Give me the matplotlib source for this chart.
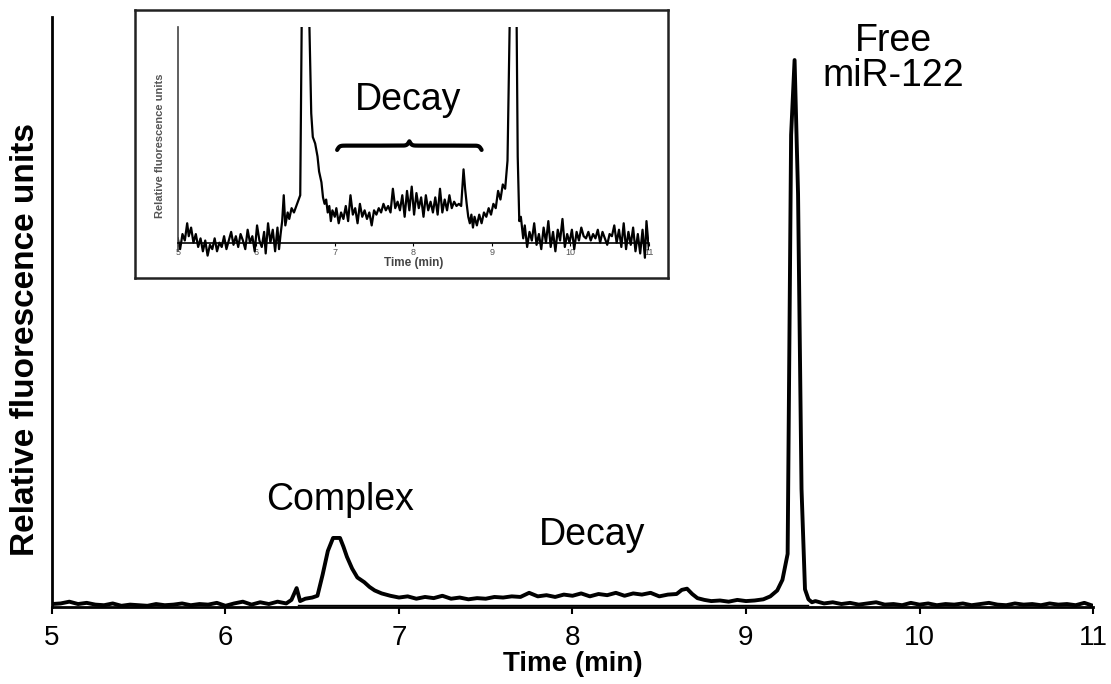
import numpy as np
import matplotlib.pyplot as plt

# main electropherogram (relative units, 100 = top of the y axis)
main_time = [5.00, 5.05, 5.10, 5.15, 5.20, 5.25, 5.30, 5.35, 5.40, 5.45, 5.50, 5.55,
             5.60, 5.65, 5.70, 5.75, 5.80, 5.85, 5.90, 5.95, 6.00, 6.05, 6.10, 6.15,
             6.20, 6.25, 6.30, 6.35, 6.38, 6.41, 6.43, 6.46, 6.50, 6.53, 6.56, 6.59,
             6.62, 6.66, 6.68, 6.70, 6.73, 6.76, 6.80, 6.83, 6.86, 6.90, 6.95, 7.00,
             7.05, 7.10, 7.15, 7.20, 7.25, 7.30, 7.35, 7.40, 7.45, 7.50, 7.55, 7.60,
             7.65, 7.70, 7.75, 7.80, 7.85, 7.90, 7.95, 8.00, 8.05, 8.10, 8.15, 8.20,
             8.25, 8.30, 8.35, 8.40, 8.45, 8.50, 8.55, 8.60, 8.63, 8.66, 8.69, 8.72,
             8.76, 8.80, 8.85, 8.90, 8.95, 9.00, 9.05, 9.10, 9.14, 9.18, 9.21, 9.24,
             9.26, 9.28, 9.30, 9.32, 9.34, 9.36, 9.38, 9.40, 9.45, 9.50, 9.55, 9.60,
             9.65, 9.70, 9.75, 9.80, 9.85, 9.90, 9.95, 10.00, 10.05, 10.10, 10.15,
             10.20, 10.25, 10.30, 10.35, 10.40, 10.45, 10.50, 10.55, 10.60, 10.65,
             10.70, 10.75, 10.80, 10.85, 10.90, 10.95, 11.00]
main_signal = [0.5, 0.6, 0.9, 0.5, 0.7, 0.4, 0.3, 0.6, 0.2, 0.4, 0.3, 0.2,
               0.5, 0.3, 0.4, 0.6, 0.3, 0.5, 0.4, 0.7, 0.2, 0.6, 0.9, 0.4,
               0.8, 0.5, 0.9, 0.6, 1.2, 3.2, 1.0, 1.4, 1.6, 1.9, 5.5, 9.5,
               11.7, 11.7, 10.2, 8.5, 6.5, 5.0, 4.2, 3.4, 2.8, 2.3, 1.9, 1.6,
               1.8, 1.4, 1.7, 1.5, 1.9, 1.4, 1.6, 1.3, 1.5, 1.4, 1.7, 1.6,
               1.8, 1.7, 2.4, 1.8, 2.0, 1.7, 2.1, 1.9, 2.3, 1.8, 2.2, 2.0,
               2.4, 1.9, 2.3, 2.1, 2.4, 1.8, 2.1, 2.2, 2.9, 3.1, 2.2, 1.5,
               1.2, 1.0, 1.1, 0.9, 1.2, 1.0, 1.1, 1.3, 1.8, 2.8, 4.6, 9.0,
               80.0, 92.7, 70.0, 20.0, 3.0, 1.3, 0.8, 1.0, 0.6, 0.8, 0.5, 0.7,
               0.4, 0.6, 0.8, 0.4, 0.5, 0.3, 0.7, 0.4, 0.6, 0.3, 0.5,
               0.4, 0.6, 0.3, 0.5, 0.7, 0.4, 0.3, 0.6, 0.4, 0.5,
               0.3, 0.6, 0.4, 0.5, 0.3, 0.7, 0.2]

# inset (zoomed view, 100 = top of inset y axis, peaks run off scale)
inset_time = [5.00, 5.03, 5.06, 5.09, 5.12, 5.14, 5.17, 5.20, 5.23, 5.26, 5.29, 5.32,
              5.35, 5.38, 5.41, 5.44, 5.47, 5.50, 5.53, 5.56, 5.59, 5.62, 5.65, 5.68,
              5.71, 5.74, 5.77, 5.80, 5.83, 5.86, 5.89, 5.92, 5.95, 5.98, 6.01, 6.04,
              6.07, 6.10, 6.12, 6.15, 6.18, 6.21, 6.24, 6.27, 6.29, 6.31, 6.33, 6.35,
              6.37, 6.40, 6.42, 6.45, 6.48, 6.51, 6.54, 6.56, 6.585, 6.66, 6.70, 6.72,
              6.75, 6.78, 6.80, 6.83, 6.85, 6.87, 6.89, 6.91, 6.93, 6.95, 6.97, 7.00,
              7.02, 7.05, 7.08, 7.11, 7.14, 7.17, 7.20, 7.23, 7.26, 7.29, 7.32, 7.35,
              7.38, 7.41, 7.44, 7.47, 7.50, 7.53, 7.56, 7.59, 7.62, 7.65, 7.68, 7.71,
              7.74, 7.77, 7.80, 7.83, 7.86, 7.89, 7.92, 7.95, 7.98, 8.01, 8.04, 8.07,
              8.10, 8.13, 8.16, 8.19, 8.22, 8.25, 8.28, 8.31, 8.34, 8.37, 8.40, 8.43,
              8.46, 8.49, 8.52, 8.55, 8.58, 8.61, 8.64, 8.66, 8.68, 8.70, 8.72, 8.74,
              8.76, 8.78, 8.81, 8.84, 8.87, 8.90, 8.93, 8.96, 8.99, 9.02, 9.05, 9.08,
              9.11, 9.14, 9.17, 9.20, 9.24, 9.31, 9.33, 9.35, 9.37, 9.40, 9.42, 9.45,
              9.48, 9.51, 9.54, 9.57, 9.60, 9.63, 9.66, 9.69, 9.72, 9.75, 9.78, 9.81,
              9.84, 9.87, 9.90, 9.93, 9.96, 9.99, 10.02, 10.05, 10.08, 10.11, 10.14,
              10.17, 10.20, 10.23, 10.26, 10.29, 10.32, 10.35, 10.38, 10.41, 10.44,
              10.47, 10.50, 10.53, 10.56, 10.59, 10.62, 10.65, 10.68, 10.71, 10.74,
              10.77, 10.80, 10.83, 10.86, 10.89, 10.92, 10.95, 10.97, 11.00]
inset_signal = [2, -3, 4, 1, 9, 3, 7, 0, 4, -2, 2, -4,
                1, -6, -1, -3, 2, -4, 0, -2, 3, -3, 1, 5,
                -1, 3, -2, 4, 1, -3, 6, 0, 3, -4, 8, 1,
                -2, 5, -5, 9, 0, 6, -4, 7, -3, 4, 10, 22,
                8, 14, 11, 16, 14, 17, 20, 22, 130, 130, 60, 49,
                46, 40, 33, 28, 21, 18, 20, 14, 17, 10, 15, 12,
                16, 9, 14, 11, 17, 10, 22, 13, 16, 9, 18, 12,
                15, 11, 14, 8, 15, 13, 16, 14, 18, 15, 17, 14,
                25, 16, 19, 15, 22, 12, 24, 15, 26, 13, 23, 16,
                21, 12, 22, 15, 19, 14, 21, 13, 25, 14, 20, 15,
                22, 16, 19, 17, 18, 17, 34, 25, 18, 12, 9, 13,
                7, 12, 8, 13, 9, 14, 12, 16, 13, 18, 16, 24,
                20, 27, 25, 38, 130, 130, 40, 10, 12, 2, 8, -2,
                5, 1, 9, -1, 4, -3, 7, 0, 10, -2, 5, -4,
                6, 1, 11, -2, 4, 0, 6, -3, 5, 1, 7,
                3, 2, 5, 1, 4, 2, 6, 0, 5, 2,
                -1, 4, 3, 8, 0, 6, -2, 9, -3, 5,
                -1, 7, -4, 4, -5, 6, -7, 10, -3]

ticks = [5, 6, 7, 8, 9, 10, 11]

fig = plt.figure(figsize=(11.11, 6.84), dpi=100)
plt.rcParams['font.family'] = ['Liberation Sans', 'DejaVu Sans']

ax = fig.add_axes([0.0468, 0.1126, 0.9370, 0.8626])
ax.plot(main_time, main_signal, color='black', lw=2.8, solid_joinstyle='round')
# software baseline under the peaks
ax.plot([6.42, 9.36], [0.3, 0.3], color='black', lw=1.0)
ax.set_xlim(5, 11)
ax.set_ylim(0, 100)
ax.set_xticks(ticks)
ax.set_yticks([])
for s in ['top', 'right']:
    ax.spines[s].set_visible(False)
for s in ['left', 'bottom']:
    ax.spines[s].set_linewidth(2.0)
ax.tick_params(axis='x', length=5, width=1.5, labelsize=20, pad=8)
ax.set_xlabel('Time (min)', fontsize=20, fontweight='bold', labelpad=0)
ax.set_ylabel('Relative fluorescence units', fontsize=24, fontweight='bold')
ax.yaxis.set_label_coords(-0.011, 0.454)

ax.text(6.66, 18.1, 'Complex', fontsize=27, ha='center', va='center')
ax.text(8.11, 12.2, 'Decay', fontsize=27, ha='center', va='center')
ax.text(9.85, 96.0, 'Free', fontsize=27, ha='center', va='center')
ax.text(9.85, 90.0, 'miR-122', fontsize=27, ha='center', va='center')

# frame around the inset
frame = fig.add_axes([0.1215, 0.5936, 0.4797, 0.3918])
frame.set_xticks([])
frame.set_yticks([])
for s in frame.spines.values():
    s.set_linewidth(1.8)
    s.set_color('#222222')

ins = fig.add_axes([0.160, 0.620, 0.424, 0.3405])
ins.patch.set_alpha(0)
ins.plot(inset_time, inset_signal, color='black', lw=1.6)
ins.set_xlim(5, 11)
ins.set_ylim(-8, 100)
ins.spines['bottom'].set_position(('data', 0))
ins.spines['left'].set_bounds(-4, 100)
for s in ['top', 'right']:
    ins.spines[s].set_visible(False)
ins.spines['left'].set_linewidth(1.2)
ins.spines['left'].set_color('#444444')
ins.spines['bottom'].set_linewidth(1.2)
ins.set_xticks(ticks)
ins.set_yticks([])
ins.tick_params(axis='x', length=2, width=0.8, labelsize=6.5, pad=2, labelcolor='#555555')
ins.text(8.0, -9.5, 'Time (min)', fontsize=8.5, fontweight='bold', color='#444444',
         ha='center', va='center')
ins.text(4.78, 45, 'Relative fluorescence units', fontsize=8, fontweight='bold',
         color='#555555', rotation=90, ha='center', va='center')
ins.text(7.93, 66, 'Decay', fontsize=27, ha='center', va='center')

# curly brace over the decay region
bx0, bx1, by = 7.03, 8.87, 43.0
t = np.linspace(0, 0.5, 200)
half = 1 / (1 + np.exp(-120 * t)) + 1 / (1 + np.exp(-120 * (t - 0.5)))
bx = np.concatenate([bx0 + t * (bx1 - bx0), bx0 + (1 - t[::-1]) * (bx1 - bx0)])
byy = np.concatenate([half, half[::-1]])
ins.plot(bx, by + (byy - 0.5) * 4.0, color='black', lw=3.0, solid_capstyle='round')

fig.savefig('out.png', dpi=100)
